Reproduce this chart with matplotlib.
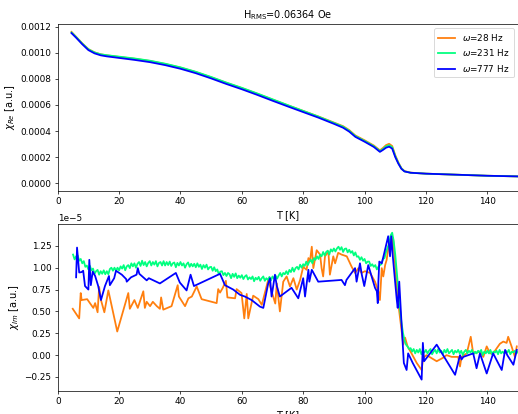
import numpy as np
import matplotlib
matplotlib.use("Agg")
import matplotlib.pyplot as plt

# ---- real part of the susceptibility (a.u., x1e-3) ----
T_re = [4.5, 6, 8, 10, 12, 14, 16, 20, 25, 30, 35, 40, 45, 50, 55, 60, 65, 70, 75,
        80, 85, 90, 93, 95, 97, 100, 103, 105, 106, 107, 108, 109, 110, 111, 112,
        113, 115, 120, 130, 140, 150]
re_777 = [1.150, 1.115, 1.065, 1.020, 0.995, 0.980, 0.972, 0.960, 0.945, 0.928,
          0.905, 0.877, 0.843, 0.803, 0.760, 0.720, 0.677, 0.632, 0.588, 0.545,
          0.502, 0.455, 0.425, 0.395, 0.355, 0.318, 0.278, 0.240, 0.255, 0.272,
          0.280, 0.265, 0.200, 0.150, 0.110, 0.090, 0.080, 0.073, 0.065, 0.057, 0.052]
re_28 = [1.160, 1.122, 1.072, 1.028, 1.003, 0.988, 0.980, 0.968, 0.954, 0.937,
         0.914, 0.886, 0.852, 0.812, 0.769, 0.729, 0.686, 0.641, 0.597, 0.554,
         0.511, 0.465, 0.437, 0.407, 0.366, 0.329, 0.289, 0.252, 0.270, 0.292,
         0.302, 0.285, 0.215, 0.160, 0.115, 0.093, 0.081, 0.073, 0.065, 0.057, 0.052]
re_231 = [1.155, 1.120, 1.070, 1.026, 1.002, 0.988, 0.981, 0.970, 0.956, 0.939,
          0.916, 0.888, 0.854, 0.814, 0.771, 0.731, 0.688, 0.643, 0.598, 0.554,
          0.510, 0.462, 0.433, 0.402, 0.361, 0.324, 0.284, 0.246, 0.262, 0.283,
          0.291, 0.276, 0.208, 0.155, 0.113, 0.091, 0.080, 0.073, 0.065, 0.057, 0.052]

# ---- imaginary part (a.u., x1e-5) ----
T_im_28 = [4.9, 7.0, 7.5, 7.8, 9.6, 11.6, 12.2, 13.0, 13.5, 14.1, 15.2, 16.5, 19.4,
           23.0, 23.5, 25.0, 26.1, 27.9, 28.4, 29.0, 30.1, 31.0, 32.3, 33.3, 33.7,
           34.4, 37.1, 39.1, 39.5, 41.5, 42.6, 43.7, 45.3, 46.9, 51.8, 52.3, 52.9,
           53.8, 54.8, 55.3, 57.8, 58.3, 59.9, 60.8, 61.6, 62.1, 63.7, 65.4, 66.5,
           68.6, 69.7, 70.9, 71.4, 72.4, 73.5, 74.6, 75.7, 76.8, 77.9, 79.0, 80.0,
           81.1, 81.7, 82.2, 82.8, 83.3, 84.4, 85.5, 86.0, 86.5, 87.1, 88.2, 88.7,
           89.8, 90.4, 91.4, 92.5, 94.2, 95.8, 96.9, 98.0, 99.0, 100.1, 101.8, 103.4,
           104.5, 105.0, 105.6, 106.1, 106.7, 107.2, 108.1, 108.8, 109.3, 110.5,
           111.3, 112.1, 112.6, 113.2, 114.0, 115.3, 117.0, 118.6, 119.1, 120.2,
           123.5, 125.6, 126.7, 128.4, 130.5, 131.1, 131.6, 133.3, 134.6, 135.4,
           137.6, 138.7, 139.8, 140.9, 141.9, 144.1, 145.2, 146.3, 146.8, 147.9,
           149.0, 149.6]
im_28 = [0.53, 0.42, 0.71, 0.63, 0.64, 0.54, 0.595, 0.49, 0.78, 0.63, 0.49, 0.74, 0.27,
         0.71, 0.53, 0.63, 0.54, 0.73, 0.54, 0.61, 0.56, 0.61, 0.56, 0.53, 0.66,
         0.52, 0.56, 0.80, 0.67, 0.56, 0.65, 0.67, 0.785, 0.64, 0.595, 0.755, 0.715,
         0.77, 0.85, 0.66, 0.65, 0.755, 0.71, 0.42, 0.70, 0.42, 0.68, 0.64, 0.575,
         0.86, 0.73, 0.59, 0.82, 0.50, 0.84, 0.90, 0.785, 0.88, 0.75, 0.86, 1.01,
         0.976, 1.11, 1.07, 1.24, 0.995, 1.20, 1.15, 0.995, 0.90, 1.13, 1.185, 0.92,
         1.13, 1.05, 1.17, 1.15, 1.13, 1.01, 0.94, 0.995, 0.94, 0.96, 0.94, 0.84,
         0.73, 0.63, 0.995, 0.90, 1.03, 1.09, 1.32, 1.22, 1.34, 0.77,
         0.50, 0.27, 0.12, 0.20, 0.10, 0.02, -0.09, -0.17, -0.03, 0.0,
         -0.07, -0.03, 0.0, -0.02, -0.02, -0.13, -0.02, 0.02, 0.21, 0.02,
         0.04, -0.02, 0.10, 0.02, 0.02, 0.13, 0.155, 0.14, 0.21, 0.10,
         -0.02, 0.10]

T_im_777 = [6.0, 6.3, 7.0, 7.8, 8.3, 8.9, 10.0, 10.3, 10.8, 11.4, 12.2, 13.2, 14.1,
            15.4, 16.7, 17.0, 18.4, 19.0, 20.9, 22.3, 22.5, 23.9, 25.7, 26.1, 26.6,
            29.0, 29.7, 33.3, 38.5, 39.8, 42.0, 43.3, 44.4, 52.9, 54.5, 57.2, 59.4,
            61.0, 63.2, 65.9, 67.0, 68.6, 69.2, 69.7, 70.8, 71.4, 72.4, 76.2, 78.4,
            80.0, 80.6, 81.7, 82.0, 82.8, 84.9, 92.5, 93.6, 94.1, 96.9, 97.4, 98.5,
            99.1, 99.9, 101.2, 103.4, 104.0, 104.3, 104.5, 104.8, 105.6, 106.3,
            107.7, 108.3, 108.7, 109.2, 109.9, 110.5, 110.8, 111.3, 112.1, 112.8,
            113.7, 114.2, 115.7, 118.6, 119.0, 119.4, 123.5, 129.5, 131.1, 131.6,
            132.2, 135.4, 136.5, 137.6, 139.8, 141.9, 144.7, 145.8, 146.5, 148.5, 149.6]
im_777 = [0.89, 1.23, 0.945, 0.95, 0.965, 0.79, 0.75, 1.09, 0.80, 0.955, 0.905, 0.79, 0.63,
          0.79, 0.905, 0.80, 0.88, 0.965, 0.92, 0.87, 0.84, 0.89, 0.92, 0.995, 0.93,
          0.855, 0.88, 0.82, 0.94, 0.83, 0.74, 0.92, 0.79, 0.93, 0.80, 0.75, 0.69,
          0.67, 0.63, 0.555, 0.54, 0.82, 0.88, 0.67, 0.92, 0.79, 0.67, 0.77, 0.65,
          0.88, 0.67, 0.976, 0.84, 0.976, 0.84, 0.86, 0.80, 0.86, 0.995, 0.84, 1.05,
          0.92, 0.79, 1.03, 0.77, 0.73, 0.595, 0.84, 1.07, 1.05, 1.15,
          1.36, 1.13, 1.36, 1.13, 0.86, 0.63, 0.54, 0.84, 0.33, -0.09,
          -0.17, 0.02, -0.09, -0.28, 0.14, -0.07, 0.12, -0.225, 0.0, -0.05,
          -0.02, 0.02, -0.15, 0.02, -0.21, 0.02, -0.17, 0.06, 0.0, -0.11, 0.06]

# 231 Hz: dense sweep, 0.5 K steps from 5 K to 150 K
im_231 = [
    1.15, 1.095, 1.13, 1.14, 1.08, 1.10, 1.05, 1.075, 1.01, 1.025,
    0.98, 1.02, 0.97, 0.99, 0.93, 0.96, 0.975, 0.92, 0.96, 0.93,
    0.97, 0.925, 0.96, 0.925, 0.985, 1.00, 0.965, 1.00, 0.965, 1.00,
    0.97, 1.015, 0.99, 1.03, 0.97, 1.015, 1.03, 0.995, 1.05, 1.015,
    1.05, 1.00, 1.045, 1.065, 1.02, 1.08, 1.03, 1.065, 1.015, 1.055,
    1.075, 1.025, 1.065, 1.035, 1.075, 1.015, 1.055, 1.065, 1.025, 1.075,
    1.025, 1.065, 1.03, 1.07, 1.02, 1.05, 1.06, 1.005, 1.055, 1.025,
    1.065, 1.025, 1.05, 1.00, 1.04, 1.06, 1.01, 1.045, 1.015, 1.045,
    1.005, 1.05, 1.01, 1.035, 0.985, 1.03, 1.00, 1.035, 0.98, 1.005,
    1.01, 0.965, 1.005, 0.96, 0.98, 0.925, 0.955, 0.96, 0.915, 0.94,
    0.905, 0.94, 0.925, 0.88, 0.93, 0.895, 0.935, 0.88, 0.91, 0.885,
    0.915, 0.87, 0.90, 0.915, 0.865, 0.89, 0.87, 0.90, 0.845, 0.885,
    0.865, 0.895, 0.85, 0.88, 0.90, 0.85, 0.88, 0.86, 0.895, 0.855,
    0.90, 0.875, 0.91, 0.875, 0.91, 0.94, 0.90, 0.94, 0.925, 0.96,
    0.925, 0.975, 0.95, 1.00, 0.955, 0.995, 1.01, 0.98, 1.035, 1.00,
    1.04, 1.02, 1.07, 1.03, 1.07, 1.09, 1.05, 1.11, 1.09, 1.13,
    1.10, 1.15, 1.13, 1.18, 1.14, 1.18, 1.195, 1.15, 1.21, 1.185,
    1.22, 1.185, 1.22, 1.24, 1.205, 1.235, 1.18, 1.215, 1.22, 1.175,
    1.205, 1.17, 1.19, 1.14, 1.175, 1.125, 1.13, 1.09, 1.12, 1.08,
    1.10, 1.05, 1.07, 1.07, 1.02, 1.04, 1.01, 1.03, 0.98, 1.01,
    1.03, 1.04, 1.10, 1.11, 1.18, 1.23, 1.27, 1.37, 1.40, 1.30,
    1.15, 0.95, 0.75, 0.55, 0.38, 0.26, 0.17, 0.12, 0.10, 0.07,
    0.08, 0.04, 0.07, 0.02, 0.06, 0.03, 0.07, 0.01, 0.05, 0.03,
    0.06, 0.02, 0.05, 0.07, 0.01, 0.04, 0.06, 0.02, 0.07, 0.03,
    0.05, 0.01, 0.06, 0.03, 0.07, 0.02, 0.04, 0.06, 0.01, 0.05,
    0.03, 0.06, 0.02, 0.05, 0.00, 0.04, 0.06, 0.02, 0.05, 0.03,
    0.06, 0.01, 0.04, 0.02, 0.05, 0.03, 0.06, 0.00, 0.04, 0.02,
    0.05, 0.02, 0.06, 0.01, 0.04, 0.03, 0.05, 0.01, 0.06, 0.02,
    0.04, 0.02, 0.05, 0.03, 0.06, 0.01, 0.04, 0.03, 0.05, 0.02,
    0.04]
T_im_231 = np.linspace(5, 150, len(im_231))

labels = [r'$\omega$=28 Hz', r'$\omega$=231 Hz', r'$\omega$=777 Hz']
colors = ['#ff7f0e', '#00ff7f', '#0000ff']
LW = 2.0

DPI = 64
fig = plt.figure(figsize=(518 / DPI, 414 / DPI), dpi=DPI)
ax1 = fig.add_axes([0.1114, 0.5386, 0.8886, 0.4034])
ax2 = fig.add_axes([0.1114, 0.0556, 0.8886, 0.4034])

ax1.plot(T_re, np.array(re_28) * 1e-3, color=colors[0], lw=LW, label=labels[0])
ax1.plot(T_re, np.array(re_231) * 1e-3, color=colors[1], lw=LW, label=labels[1])
ax1.plot(T_re, np.array(re_777) * 1e-3, color=colors[2], lw=LW, label=labels[2])
ax1.set_xlim(0, 150)
ax1.set_ylim(-0.00006, 0.00122)
ax1.set_yticks([0, 0.0002, 0.0004, 0.0006, 0.0008, 0.0010, 0.0012])
ax1.set_xlabel('T [K]', fontsize=11)
ax1.set_ylabel(r'$\chi_{Re}$ [a.u.]', fontsize=11)
ax1.set_title(r'H$_{\mathrm{RMS}}$=0.06364 Oe', fontsize=11)
ax1.legend(loc='upper right')

ax2.plot(T_im_28, np.array(im_28) * 1e-5, color=colors[0], lw=LW)
ax2.plot(T_im_231, np.array(im_231) * 1e-5, color=colors[1], lw=LW)
ax2.plot(T_im_777, np.array(im_777) * 1e-5, color=colors[2], lw=LW)
ax2.set_xlim(0, 150)
ax2.set_ylim(-0.41e-5, 1.50e-5)
ax2.set_yticks(np.array([-0.25, 0.0, 0.25, 0.5, 0.75, 1.0, 1.25]) * 1e-5)
ax2.set_xlabel('T [K]', fontsize=11)
ax2.set_ylabel(r'$\chi_{Im}$ [a.u.]', fontsize=11)

fig.savefig('out.png', dpi=DPI)
